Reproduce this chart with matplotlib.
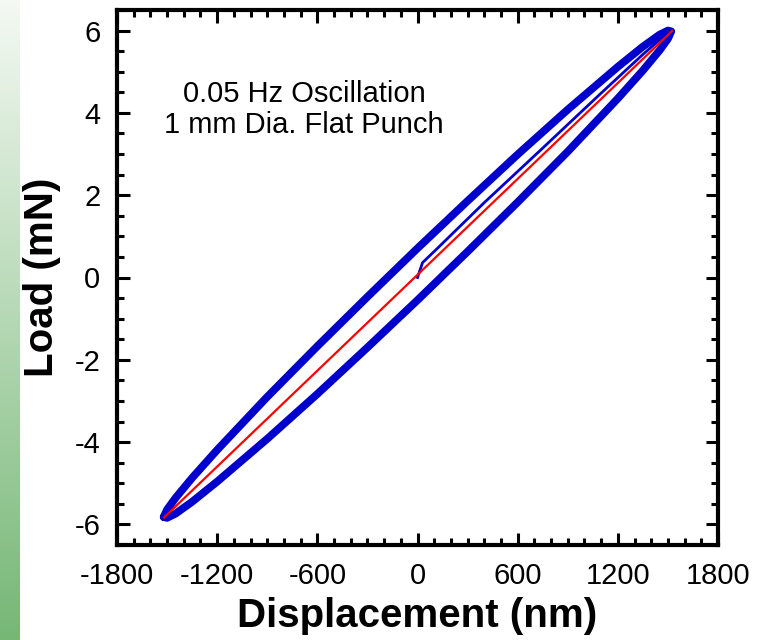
import numpy as np
import matplotlib
matplotlib.use("Agg")
import matplotlib.pyplot as plt
from matplotlib.ticker import MultipleLocator
from matplotlib.colors import LinearSegmentedColormap

plt.rcParams['font.family'] = ['Liberation Sans', 'DejaVu Sans']
plt.rcParams['axes.unicode_minus'] = False

# hysteresis loop (nm, mN): upper branch left->right, then lower branch right->left
disp_loop = [-1520, -1500, -1450, -1350, -1200, -900, -600, -300, 0, 300, 600, 900, 1200, 1350, 1450, 1500, 1520,
             1500, 1450, 1350, 1200, 900, 600, 300, 0, -300, -600, -900, -1200, -1350, -1450, -1500, -1520]
load_loop = [-5.82, -5.64, -5.36, -4.87, -4.19, -2.90, -1.67, -0.47, 0.71, 1.86, 2.99, 4.08, 5.12, 5.61, 5.90, 6.00, 5.98,
             5.80, 5.52, 5.03, 4.35, 3.06, 1.83, 0.63, -0.55, -1.70, -2.83, -3.92, -4.96, -5.45, -5.74, -5.84, -5.82]

# initial loading path
disp_init = [0, 30, 117, 400, 733, 1100, 1350, 1500]
load_init = [0.0, 0.36, 0.70, 1.82, 3.08, 4.48, 5.42, 5.95]

# linear fit line
disp_fit = [-1518, 1525]
load_fit = [-5.83, 5.99]

fig = plt.figure(figsize=(7.57, 6.4), dpi=100)

# green strip on the left edge
strip = fig.add_axes([0, 0, 20 / 757, 1])
grad = np.linspace(0, 1, 256).reshape(-1, 1)
cmap = LinearSegmentedColormap.from_list("g", ["#f4f9f3", "#76b776"])
strip.imshow(grad, aspect="auto", cmap=cmap, extent=[0, 1, 0, 1], origin="upper")
strip.axis("off")

ax = fig.add_axes([117 / 757, 1 - 545 / 640, 601 / 757, 535 / 640])

ax.plot(disp_loop, load_loop, color="#0000cc", lw=5.6, solid_joinstyle="round", solid_capstyle="round", zorder=2)
ax.plot(disp_init, load_init, color="#0000cc", lw=2.0, zorder=3)
ax.plot(disp_fit, load_fit, color="#ff0000", lw=1.6, zorder=4)

ax.set_xlim(-1800, 1800)
ax.set_ylim(-6.5, 6.5)
ax.xaxis.set_major_locator(MultipleLocator(600))
ax.xaxis.set_minor_locator(MultipleLocator(100))
ax.yaxis.set_major_locator(MultipleLocator(2))
ax.yaxis.set_minor_locator(MultipleLocator(0.5))
ax.tick_params(which="both", direction="in", top=True, right=True, width=2.2)
ax.tick_params(which="major", length=9, labelsize=21)
ax.tick_params(axis="x", which="major", pad=12)
ax.tick_params(axis="y", which="major", pad=12)
ax.tick_params(which="minor", length=5)
for s in ax.spines.values():
    s.set_linewidth(3)

ax.set_xlabel("Displacement (nm)", fontsize=29, fontweight="bold", labelpad=5)
ax.set_ylabel("Load (mN)", fontsize=29, fontweight="bold", labelpad=10)

ax.text(-678, 4.08, "0.05 Hz Oscillation\n1 mm Dia. Flat Punch", ha="center", va="center",
        fontsize=21, linespacing=1.15)

fig.savefig("out.png", dpi=100)
